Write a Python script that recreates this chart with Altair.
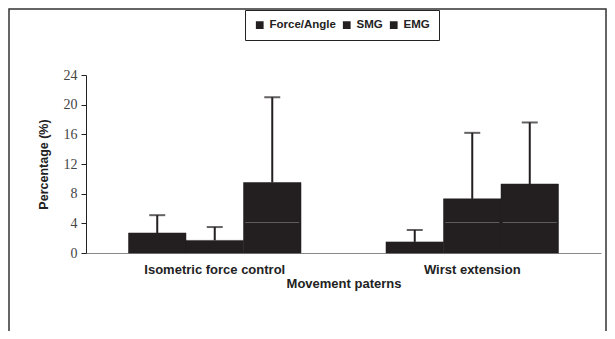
import altair as alt
import pandas as pd

groups = ["Isometric force control"] * 3 + ["Wirst extension"] * 3
series = ["Force/Angle", "SMG", "EMG"] * 2
means = [2.7, 1.7, 9.5, 1.5, 7.3, 9.3]
upper = [5.1, 3.5, 21.0, 3.1, 16.2, 17.6]
inner = [None, None, 4.1, None, 4.1, 4.1]
y_ticks = [0, 4, 8, 12, 16, 20, 24]
series_order = ["Force/Angle", "SMG", "EMG"]

df = pd.DataFrame({"group": groups, "series": series, "mean": means,
                   "upper": upper, "inner": inner})

DARK = "#231f20"

x = alt.X("group:N", sort=None,
          scale=alt.Scale(paddingInner=0.33, paddingOuter=0.165),
          axis=alt.Axis(title="Movement paterns", labelAngle=0, ticks=False,
                        domainColor="#888", labelFont="Liberation Sans",
                        labelFontWeight="bold", labelFontSize=13, labelColor="#222",
                        labelPadding=10, titleFont="Liberation Sans",
                        titleFontWeight="bold", titleFontSize=13, titleColor="#222",
                        titlePadding=1))
xo = alt.XOffset("series:N", sort=series_order)

y_scale = alt.Scale(domain=[0, 24], nice=False, zero=True)
y_axis = alt.Axis(values=y_ticks, tickCount=7, title="Percentage (%)", grid=False,
                  labelOverlap=False,
                  domainColor="#222", tickColor="#222", tickSize=5,
                  labelFont="Liberation Serif", labelFontSize=14,
                  labelColor="#444", labelPadding=4,
                  titleFont="Liberation Sans", titleFontWeight="bold",
                  titleFontSize=12.5, titleColor="#222", titlePadding=13)


def Y(field):
    return alt.Y(field, type="quantitative", scale=y_scale, axis=y_axis,
                 title="Percentage (%)")


bars = alt.Chart(df).mark_bar(color=DARK, stroke=DARK, strokeWidth=0.5).encode(
    x=x, xOffset=xo,
    y=Y("mean"),
    color=alt.Color("series:N", sort=series_order,
                    scale=alt.Scale(domain=series_order, range=[DARK, DARK, DARK]),
                    legend=alt.Legend(title=None, orient="none", legendX=159, legendY=-65,
                                      direction="horizontal", strokeColor="#222",
                                      padding=9, symbolType="square", symbolSize=60,
                                      symbolStrokeWidth=0, labelFont="Liberation Sans",
                                      labelFontWeight="bold", labelFontSize=11.5,
                                      labelColor="#222", columnPadding=5,
                                      labelOffset=4)),
)

err = alt.Chart(df).mark_rule(color=DARK, strokeWidth=2).encode(
    x=x, xOffset=xo, y=Y("mean"), y2="upper:Q")

caps = alt.Chart(df).mark_tick(color=DARK, size=16, thickness=2).encode(
    x=x, xOffset=xo, y=Y("upper"))

inner_lines = alt.Chart(df).transform_filter("datum.inner != null").mark_tick(
    color="#777", size=54, thickness=1).encode(x=x, xOffset=xo, y=Y("inner"))

frame = alt.Chart(pd.DataFrame({"a": [0]})).mark_rect(
    fill=None, stroke="#333", strokeWidth=1.5).encode(
    x=alt.value(-77), x2=alt.value(520), y=alt.value(-66), y2=alt.value(300))

chart = alt.layer(bars, inner_lines, err, caps, frame).properties(
    width=515, height=178,
    autosize=alt.AutoSizeParams(type="none"),
    padding={"left": 78, "top": 67, "right": 6, "bottom": 78},
).configure_view(stroke=None)

chart.save("out.html", embed_options={"renderer": "svg", "actions": False})
